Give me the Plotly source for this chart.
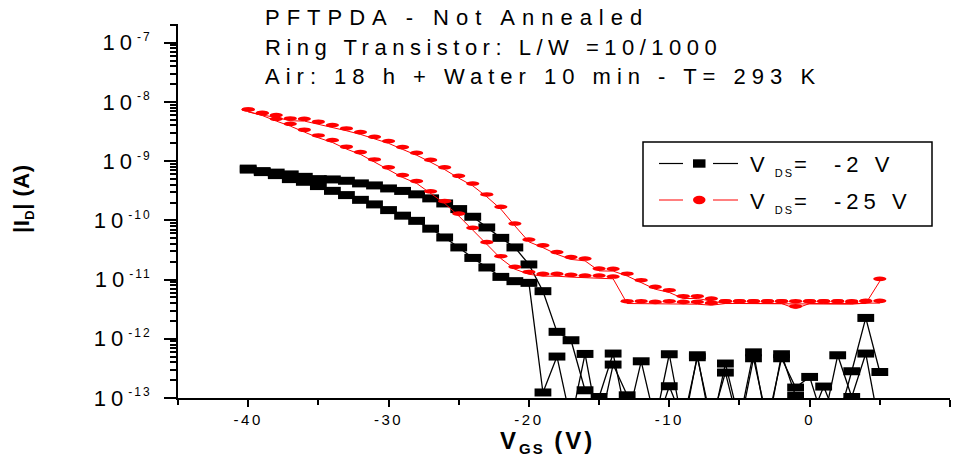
import numpy as np
import plotly.graph_objects as go

# Gate voltage sweep (V)
vgs = list(range(-40, 6))

# |I_D| (A) at V_DS = -2 V, two sweeps
id_m2_a = [7.48e-10, 6.79e-10, 6.40e-10, 5.97e-10, 5.43e-10, 4.97e-10, 4.91e-10, 4.66e-10,
           4.21e-10, 3.89e-10, 3.46e-10, 3.14e-10, 2.75e-10, 2.35e-10, 1.93e-10, 1.55e-10,
           1.15e-10, 7.59e-11, 5.06e-11, 3.49e-11, 1.80e-11, 6.37e-12, 1.31e-12, 9.45e-13,
           1.35e-13, 1.04e-13, 5.63e-13, 4.0e-14, 4.17e-13, 4.0e-14, 5.48e-13, 3.0e-14,
           5.27e-13, 3.0e-14, 3.82e-13, 4.0e-14, 5.90e-13, 3.0e-14, 5.48e-13, 1.08e-13,
           4.0e-14, 1.56e-13, 4.0e-14, 2.83e-13, 2.25e-12, 2.75e-13]
id_m2_b = [7.20e-10, 6.53e-10, 5.81e-10, 4.97e-10, 4.48e-10, 3.79e-10, 3.15e-10, 2.67e-10,
           2.22e-10, 1.86e-10, 1.49e-10, 1.20e-10, 9.81e-11, 7.24e-11, 5.14e-11, 3.49e-11,
           2.32e-11, 1.60e-11, 1.11e-11, 9.40e-12, 8.80e-12, 1.24e-13, 5.01e-13, 4.0e-14,
           5.55e-13, 3.0e-14, 3.67e-13, 1.11e-13, 4.0e-14, 3.0e-14, 1.58e-13, 4.0e-14,
           4.88e-13, 4.0e-14, 2.69e-13, 3.0e-14, 4.69e-13, 4.0e-14, 4.69e-13, 1.50e-13,
           2.27e-13, 4.0e-14, 5.27e-13, 1.04e-13, 5.63e-13, 3.0e-14]

# |I_D| (A) at V_DS = -25 V, two sweeps
id_m25_a = [6.82e-9, 6.00e-9, 5.48e-9, 4.81e-9, 4.75e-9, 4.23e-9, 3.72e-9, 3.26e-9,
            2.83e-9, 2.36e-9, 2.00e-9, 1.58e-9, 1.26e-9, 9.60e-10, 7.20e-10, 5.17e-10,
            3.83e-10, 2.50e-10, 1.55e-10, 8.07e-11, 4.34e-11, 3.46e-11, 2.67e-11, 2.19e-11,
            2.07e-11, 1.40e-11, 1.39e-11, 1.15e-11, 8.93e-12, 6.88e-12, 6.05e-12, 4.79e-12,
            4.79e-12, 4.36e-12, 3.94e-12, 3.94e-12, 3.94e-12, 3.94e-12, 3.94e-12, 3.94e-12,
            3.94e-12, 3.94e-12, 3.94e-12, 3.84e-12, 4.00e-12, 4.00e-12]
id_m25_b = [6.82e-9, 5.90e-9, 4.75e-9, 3.91e-9, 3.10e-9, 2.48e-9, 2.07e-9, 1.60e-9,
            1.30e-9, 9.75e-10, 7.20e-10, 5.31e-10, 4.21e-10, 2.83e-10, 1.93e-10, 1.19e-10,
            6.84e-11, 3.92e-11, 2.27e-11, 1.50e-11, 1.23e-11, 1.14e-11, 1.14e-11, 1.10e-11,
            1.07e-11, 1.07e-11, 1.03e-11, 3.94e-12, 3.94e-12, 3.84e-12, 3.94e-12, 3.84e-12,
            3.84e-12, 3.69e-12, 3.94e-12, 3.94e-12, 3.94e-12, 3.94e-12, 3.94e-12, 3.24e-12,
            3.94e-12, 3.94e-12, 3.94e-12, 3.94e-12, 3.94e-12, 9.40e-12]

# Axis ticks
y_exps = [-13, -12, -11, -10, -9, -8, -7]
x_ticks = [-40, -30, -20, -10, 0, 10]
x_minor = [-45, -35, -25, -15, -5, 5]

title_lines = ["PFTPDA - Not Annealed",
               "Ring Transistor: L/W =10/1000",
               "Air: 18 h + Water 10 min - T= 293 K"]
legend_values = ["-2 V", "-25 V"]

W, H = 958, 463
L, R, T, B = 178, 950, 24, 398
FONT = "Liberation Sans, Arial, Helvetica, sans-serif"


def fx(p):
    return (p - L) / (R - L)


def fy(p):
    return (B - p) / (B - T)


def spaced(text, size, px):
    return f'<span style="font-size:{size}px;letter-spacing:{px}px">{text}</span>'


def legend_text(value):
    return (spaced("V", 22, 10)
            + "<sub>" + spaced("DS", 11, 2) + "</sub>"
            + spaced("=\u00a0\u00a0" + value, 22, 5))


fig = go.Figure()

for ys in (id_m2_a, id_m2_b):
    fig.add_trace(go.Scatter(
        x=vgs, y=ys, mode="lines+markers", showlegend=False,
        line=dict(color="black", width=1.3),
        marker=dict(symbol="line-ew", size=12, line=dict(color="black", width=8)),
    ))

for ys in (id_m25_a, id_m25_b):
    fig.add_trace(go.Scatter(
        x=vgs, y=ys, mode="lines", showlegend=False,
        line=dict(color="#ff0000", width=1),
    ))
    # elliptical markers, anchored at the data point and sized in pixels
    for v, i in zip(vgs, ys):
        fig.add_shape(type="circle", xref="x", yref="y",
                      xsizemode="pixel", ysizemode="pixel", xanchor=v, yanchor=i,
                      x0=-6.6, x1=6.6, y0=-4.6, y1=4.6,
                      fillcolor="#ff0000", line=dict(width=0), layer="above")

# Legend box
fig.add_shape(type="rect", xref="paper", yref="paper",
              x0=fx(643), x1=fx(932), y0=fy(226), y1=fy(142),
              line=dict(color="black", width=1.5), fillcolor="white", layer="below")
for row, (yrow, col) in enumerate(((163.5, "black"), (200, "#ff0000"))):
    for a, b in ((659, 683), (713, 738)):
        fig.add_shape(type="line", xref="paper", yref="paper",
                      x0=fx(a), x1=fx(b), y0=fy(yrow), y1=fy(yrow),
                      line=dict(color=col, width=1.2 if row == 0 else 1))
    fig.add_shape(type="rect" if row == 0 else "circle", xref="paper", yref="paper",
                  x0=fx(693), x1=fx(705.5), y0=fy(yrow + 4.2), y1=fy(yrow - 4.2),
                  fillcolor=col, line=dict(width=0))
    fig.add_annotation(xref="paper", yref="paper", x=fx(748), y=fy(yrow + 2),
                       xanchor="left", yanchor="middle", showarrow=False,
                       text=legend_text(legend_values[row]),
                       font=dict(family=FONT, size=22, color="black"))

# Header text
for k, line in enumerate(title_lines):
    fig.add_annotation(xref="paper", yref="paper", x=fx(263), y=fy(18 + 29 * k),
                       xanchor="left", yanchor="middle", showarrow=False,
                       text=spaced(line, 22, [7.0, 5.5, 6.0][k]),
                       font=dict(family=FONT, size=22, color="black"))

# Axis titles
fig.add_annotation(xref="paper", yref="paper", x=fx(547), y=fy(442),
                   xanchor="center", yanchor="middle", showarrow=False,
                   text="<b>" + spaced("V", 24, 3) + "<sub>" + spaced("GS", 15, 2) + "</sub>"
                        + spaced("\u00a0(V)", 24, 3) + "</b>",
                   font=dict(family=FONT, size=24, color="black"))
fig.add_annotation(xref="paper", yref="paper", x=fx(23), y=fy(199),
                   xanchor="center", yanchor="middle", showarrow=False, textangle=-90,
                   text="<b>" + spaced("|I", 22, 0.5) + "<sub>" + spaced("D", 13, 0.5) + "</sub>"
                        + spaced("|\u00a0(A)", 22, 0.5) + "</b>",
                   font=dict(family=FONT, size=22, color="black"))

y_minor = [k * 10.0 ** e for e in range(-13, -6) for k in range(2, 10)]

fig.update_xaxes(
    range=[-45, 10], showgrid=False, zeroline=False,
    showline=True, linecolor="black", linewidth=2,
    ticks="outside", ticklen=7, tickwidth=2, tickcolor="black",
    tickmode="array", tickvals=x_ticks,
    ticktext=[spaced(f"{t}", 15, 2.5) for t in x_ticks],
    tickfont=dict(family=FONT, size=15, color="black"),
    ticklabelstandoff=0,
    minor=dict(tickmode="array", tickvals=x_minor, ticks="outside", ticklen=5,
               tickwidth=1.5, tickcolor="black", showgrid=False),
)
fig.update_yaxes(
    type="log", range=[-13, -6.684], showgrid=False, zeroline=False,
    showline=True, linecolor="black", linewidth=2,
    ticks="outside", ticklen=12, tickwidth=2, tickcolor="black",
    tickmode="array", tickvals=[10.0 ** e for e in y_exps],
    ticktext=[spaced("10", 22, 5) + "<sup>" + spaced(str(e), 12, 2) + "</sup>"
              for e in y_exps],
    tickfont=dict(family=FONT, size=22, color="black"),
    ticklabelstandoff=8,
    minor=dict(tickmode="array", tickvals=y_minor, ticks="outside", ticklen=6,
               tickwidth=1.5, tickcolor="black", showgrid=False),
)

fig.update_layout(
    width=W, height=H,
    margin=dict(l=L, r=W - R, t=T, b=H - B, pad=0),
    paper_bgcolor="white", plot_bgcolor="white",
    showlegend=False,
)

fig.write_html("out.html")
